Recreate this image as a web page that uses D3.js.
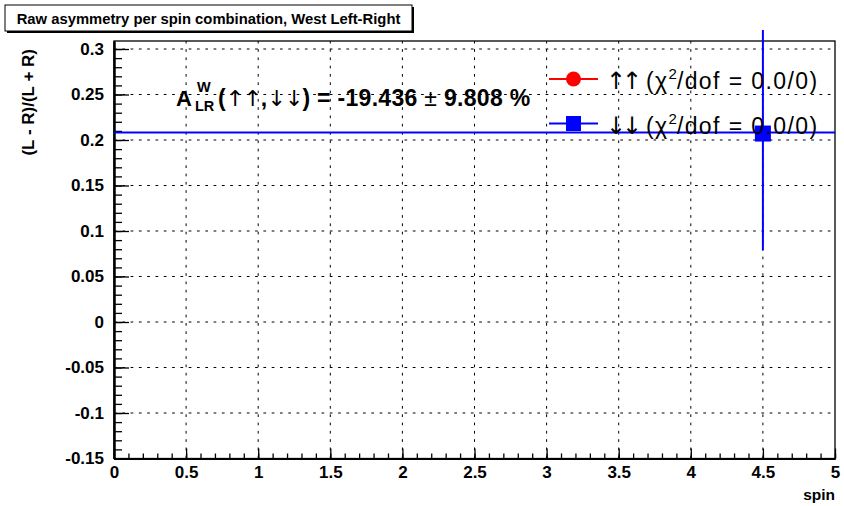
<!DOCTYPE html>
<html>
<head>
<meta charset="utf-8">
<script src="https://cdn.jsdelivr.net/npm/d3@7/dist/d3.min.js"></script>
<style>
  html, body { margin: 0; padding: 0; background: #fff; }
  svg { display: block; }
  text { font-family: "Liberation Sans", Arial, Helvetica, sans-serif; }
</style>
</head>
<body>
<svg id="chart" width="844" height="506"></svg>
<script>
// ---------------- data ----------------
const titleText = "Raw asymmetry per spin combination, West Left-Right";
const xTitle = "spin";
const yTitle = "(L - R)/(L + R)";
const xDomain = [0, 5];
const yDomain = [-0.15, 0.3088];
const xTickValues = [0, 0.5, 1, 1.5, 2, 2.5, 3, 3.5, 4, 4.5, 5];
const xTickLabels = ["0", "0.5", "1", "1.5", "2", "2.5", "3", "3.5", "4", "4.5", "5"];
const yTickValues = [-0.15, -0.1, -0.05, 0, 0.05, 0.1, 0.15, 0.2, 0.25, 0.3];
const yTickLabels = ["-0.15", "-0.1", "-0.05", "0", "0.05", "0.1", "0.15", "0.2", "0.25", "0.3"];
const xMinorStep = 0.1;
const yMinorStep = 0.01;

// series "down-down" (blue squares)
const downX = [4.5];
const downY = [0.2071];
const downErr = [0.128];
// series "up-up" (red circles) – no visible points
const upX = [];
const upY = [];
// constant fit of the blue series
const fitValue = [0.2082];

const legendLabels = ["\u2191\u2191", "\u2193\u2193"];
const legendChi = ["0.0/0", "0.0/0"];
const legendColors = ["#ff0000", "#0000ff"];
const legendShapes = ["circle", "square"];

const asymValue = "-19.436";
const asymError = "9.808";

// ---------------- layout ----------------
const svg = d3.select("#chart");
const L = 114, R = 835, T = 41, B = 458.5;
const x = d3.scaleLinear().domain(xDomain).range([L, R]);
const y = d3.scaleLinear().domain(yDomain).range([B, T]);

// minor tick values
const xMinor = d3.range(Math.round((xDomain[1] - xDomain[0]) / xMinorStep) + 1)
  .map(i => +(xDomain[0] + i * xMinorStep).toFixed(4));
const yMinor = d3.range(Math.round((0.3 - (-0.15)) / yMinorStep) + 1)
  .map(i => +(-0.15 + i * yMinorStep).toFixed(4));

// grid (dotted)
const grid = svg.append("g").attr("stroke", "#000").attr("stroke-width", 1)
  .attr("stroke-dasharray", "2.7,5.6").attr("fill", "none");
grid.selectAll("line.gx").data(xTickValues.slice(1, -1)).join("line")
  .attr("x1", d => x(d)).attr("x2", d => x(d)).attr("y1", B).attr("y2", T);
grid.selectAll("line.gy").data(yTickValues.slice(1)).join("line")
  .attr("y1", d => y(d)).attr("y2", d => y(d)).attr("x1", L).attr("x2", R);

// frame
svg.append("rect").attr("x", L).attr("y", T).attr("width", R - L).attr("height", B - T)
  .attr("fill", "none").attr("stroke", "#000").attr("stroke-width", 1.3);

// axes
const fmtX = d => xTickLabels[xTickValues.indexOf(d)];
const fmtY = d => yTickLabels[yTickValues.findIndex(v => Math.abs(v - d) < 1e-9)];

const xAxisMajor = d3.axisBottom(x).tickValues(xTickValues).tickFormat(fmtX)
  .tickSizeInner(-10).tickSizeOuter(0).tickPadding(7);
const xAxisMinor = d3.axisBottom(x).tickValues(xMinor).tickFormat("")
  .tickSizeInner(-5).tickSizeOuter(0);
const yAxisMajor = d3.axisLeft(y).tickValues(yTickValues).tickFormat(fmtY)
  .tickSizeInner(-15).tickSizeOuter(0).tickPadding(10);
const yAxisMinor = d3.axisLeft(y).tickValues(yMinor).tickFormat("")
  .tickSizeInner(-8).tickSizeOuter(0);

function styleAxis(g) {
  g.attr("font-size", null).attr("font-family", null);
  g.select(".domain").attr("stroke", "#000").attr("stroke-width", 2);
  g.selectAll(".tick line").attr("stroke", "#000").attr("stroke-width", 1.3);
  g.selectAll(".tick text").attr("fill", "#000")
    .style("font-family", "'Liberation Sans', Arial, sans-serif")
    .style("font-size", "17px").style("font-weight", "bold");
}
svg.append("g").attr("transform", `translate(0,${B})`).call(xAxisMinor).call(styleAxis);
svg.append("g").attr("transform", `translate(0,${B})`).call(xAxisMajor).call(styleAxis);
svg.append("g").attr("transform", `translate(${L},0)`).call(yAxisMinor).call(styleAxis);
svg.append("g").attr("transform", `translate(${L},0)`).call(yAxisMajor).call(styleAxis);

// axis titles
svg.append("text").attr("x", R).attr("y", 500).attr("text-anchor", "end")
  .style("font-size", "15.5px").style("font-weight", "bold").text(xTitle);
svg.append("text").attr("transform", `translate(34,${y(0.3)}) rotate(-90)`)
  .attr("text-anchor", "end")
  .style("font-size", "17px").style("font-weight", "bold").text(yTitle);

// fit line
svg.append("g").selectAll("line").data(fitValue).join("line")
  .attr("x1", x(xDomain[0])).attr("x2", x(xDomain[1]))
  .attr("y1", d => y(d)).attr("y2", d => y(d))
  .attr("stroke", "#0000ff").attr("stroke-width", 2);

// blue points with error bars
const down = downX.map((d, i) => ({ x: d, y: downY[i], e: downErr[i] }));
svg.append("g").selectAll("line").data(down).join("line")
  .attr("x1", d => x(d.x)).attr("x2", d => x(d.x))
  .attr("y1", d => y(d.y - d.e)).attr("y2", d => Math.max(y(d.y + d.e), T - 11))
  .attr("stroke", "#0000ff").attr("stroke-width", 2);
svg.append("g").selectAll("rect").data(down).join("rect")
  .attr("x", d => x(d.x) - 8).attr("y", d => y(d.y) - 8)
  .attr("width", 16).attr("height", 16).attr("fill", "#0000ff");

// red points (none visible)
svg.append("g").selectAll("circle").data(upX.map((d, i) => ({ x: d, y: upY[i] }))).join("circle")
  .attr("cx", d => x(d.x)).attr("cy", d => y(d.y)).attr("r", 7.5).attr("fill", "#ff0000");

// legend
const legRowY = [79, 123.5];
const leg = svg.append("g");
legendLabels.forEach((lab, i) => {
  const g = leg.append("g").attr("transform", `translate(0,${legRowY[i]})`);
  g.append("line").attr("x1", 549).attr("x2", 598).attr("y1", 0).attr("y2", 0)
    .attr("stroke", legendColors[i]).attr("stroke-width", 2);
  if (legendShapes[i] === "circle") {
    g.append("circle").attr("cx", 573.5).attr("cy", 0).attr("r", 7.5).attr("fill", legendColors[i]);
  } else {
    g.append("rect").attr("x", 566).attr("y", -7.5).attr("width", 15).attr("height", 15)
      .attr("fill", legendColors[i]);
  }
  const t = g.append("text").attr("x", 606).attr("y", 10)
    .style("font-size", "23px").attr("fill", "#000");
  t.append("tspan").style("font-family", "'DejaVu Sans', sans-serif").style("font-size", "24px")
    .attr("letter-spacing", "-4").text(lab);
  t.append("tspan").attr("letter-spacing", "1.4").text(" (\u03c7");
  t.append("tspan").attr("dy", -10).style("font-size", "15px").text("2");
  t.append("tspan").attr("dy", 10).attr("letter-spacing", "1.4").text("/dof = " + legendChi[i] + ")");
});

// annotation
const ann = svg.append("g").attr("fill", "#000");
ann.append("text").attr("x", 176).attr("y", 106)
  .style("font-size", "22px").style("font-weight", "bold").text("A");
ann.append("text").attr("x", 197).attr("y", 92)
  .style("font-size", "14.5px").style("font-weight", "bold").text("W");
ann.append("text").attr("x", 195).attr("y", 111)
  .style("font-size", "14.5px").style("font-weight", "bold").text("LR");
const at = ann.append("text").attr("x", 218).attr("y", 106)
  .style("font-size", "23px").style("font-weight", "bold").attr("letter-spacing", "0.3");
at.append("tspan").text("(");
at.append("tspan").style("font-weight", "normal").style("font-family", "'DejaVu Sans', sans-serif")
  .style("font-size", "22px").attr("letter-spacing", "-1").text("\u2191\u2191");
at.append("tspan").text(",");
at.append("tspan").style("font-weight", "normal").style("font-family", "'DejaVu Sans', sans-serif")
  .style("font-size", "22px").attr("letter-spacing", "-1").text("\u2193\u2193");
at.append("tspan").text(") = " + asymValue + " ");
at.append("tspan").style("font-weight", "normal").text("\u00b1");
at.append("tspan").text(" " + asymError + " %");

// title box
svg.append("rect").attr("x", 7).attr("y", 7).attr("width", 407).attr("height", 26).attr("fill", "#000");
svg.append("rect").attr("x", 5).attr("y", 5).attr("width", 407).attr("height", 26)
  .attr("fill", "#fff").attr("stroke", "#000").attr("stroke-width", 1);
svg.append("text").attr("x", 208.5).attr("y", 24).attr("text-anchor", "middle")
  .style("font-size", "14.8px").style("font-weight", "bold").text(titleText);
</script>
</body>
</html>
